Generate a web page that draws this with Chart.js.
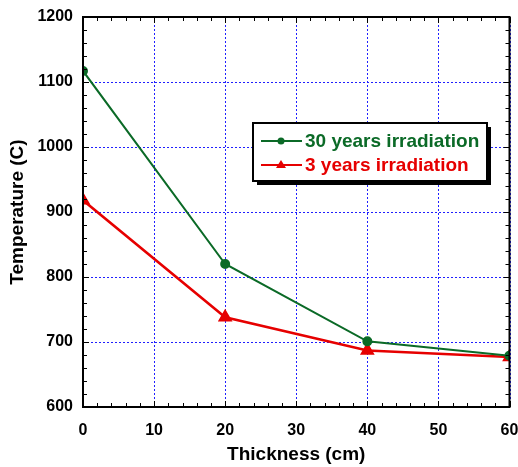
<!DOCTYPE html>
<html>
<head>
<meta charset="utf-8">
<script src="https://cdn.jsdelivr.net/npm/chart.js@4"></script>
<style>
  html, body { margin: 0; padding: 0; background: #fff; }
  #wrap { width: 518px; height: 467px; position: relative; }
</style>
</head>
<body>
<div id="wrap"><canvas id="tempChart"></canvas></div>
<script>
// Data
const thickness = [0, 20, 40, 60];
const temp30 = [1117, 820, 701, 679];
const temp3 = [918, 738, 687, 677];
const seriesLabels = ['30 years irradiation', '3 years irradiation'];
const xTicks = [0, 10, 20, 30, 40, 50, 60];
const yTicks = [600, 700, 800, 900, 1000, 1100, 1200];

const GREEN = '#0b6a27';
const RED = '#e60000';
const FONT = '"Liberation Sans", Arial, sans-serif';

// Dotted blue gridlines at the major ticks
const dottedGrid = {
    id: 'dottedGrid',
    beforeDatasetsDraw(chart) {
        const { ctx, chartArea: a, scales } = chart;
        ctx.save();
        ctx.strokeStyle = '#1f1fff';
        ctx.lineWidth = 1;
        ctx.setLineDash([2, 2]);
        ctx.beginPath();
        xTicks.forEach(v => {
            const px = Math.round(scales.x.getPixelForValue(v)) + 0.5;
            ctx.moveTo(px, a.top); ctx.lineTo(px, a.bottom);
        });
        yTicks.forEach(v => {
            const py = Math.round(scales.y.getPixelForValue(v)) + 0.5;
            ctx.moveTo(a.left, py); ctx.lineTo(a.right, py);
        });
        ctx.stroke();
        ctx.restore();
    }
};

// Inward minor/major ticks on all four sides + black frame
const frameTicks = {
    id: 'frameTicks',
    afterDatasetsDraw(chart) {
        const { ctx, chartArea: a, scales } = chart;
        const x = scales.x, y = scales.y;
        ctx.save();
        ctx.strokeStyle = '#000';
        ctx.lineWidth = 1;
        ctx.beginPath();
        for (let v = 0; v <= 60; v += 2) {
            const px = Math.round(x.getPixelForValue(v)) + 0.5;
            const len = v % 10 === 0 ? 6 : 4;
            ctx.moveTo(px, a.bottom); ctx.lineTo(px, a.bottom - len);
            ctx.moveTo(px, a.top); ctx.lineTo(px, a.top + len);
        }
        for (let v = 600; v <= 1200; v += 20) {
            const py = Math.round(y.getPixelForValue(v)) + 0.5;
            const len = v % 100 === 0 ? 6 : 4;
            ctx.moveTo(a.left, py); ctx.lineTo(a.left + len, py);
            ctx.moveTo(a.right, py); ctx.lineTo(a.right - len, py);
        }
        ctx.stroke();
        ctx.lineWidth = 2;
        ctx.strokeRect(a.left, a.top, a.right - a.left, a.bottom - a.top);
        ctx.restore();
    }
};

// Boxed legend with drop shadow, inside the plot
const boxLegend = {
    id: 'boxLegend',
    afterDraw(chart) {
        const { ctx } = chart;
        const bx = 253, by = 123, bw = 234, bh = 58;
        ctx.save();
        ctx.fillStyle = '#000';
        ctx.fillRect(bx + 4, by + 4, bw, bh);
        ctx.fillStyle = '#fff';
        ctx.fillRect(bx, by, bw, bh);
        ctx.lineWidth = 2;
        ctx.strokeStyle = '#000';
        ctx.strokeRect(bx, by, bw, bh);
        ctx.font = 'bold 19px ' + FONT;
        ctx.textBaseline = 'middle';
        chart.data.datasets.forEach((ds, i) => {
            const cy = by + 18 + i * 24;
            ctx.strokeStyle = ds.borderColor;
            ctx.lineWidth = 2;
            ctx.beginPath();
            ctx.moveTo(bx + 8, cy); ctx.lineTo(bx + 49, cy);
            ctx.stroke();
            ctx.fillStyle = ds.borderColor;
            ctx.beginPath();
            if (ds.pointStyle === 'triangle') {
                ctx.moveTo(bx + 28, cy - 5); ctx.lineTo(bx + 33, cy + 3); ctx.lineTo(bx + 23, cy + 3);
                ctx.closePath();
            } else {
                ctx.arc(bx + 28, cy, 3.5, 0, Math.PI * 2);
            }
            ctx.fill();
            ctx.fillText(ds.label, bx + 52, cy + 1);
        });
        ctx.restore();
    }
};

new Chart(document.getElementById('tempChart'), {
    type: 'line',
    data: {
        datasets: [{
            label: seriesLabels[0],
            data: thickness.map((t, i) => ({ x: t, y: temp30[i] })),
            borderColor: GREEN,
            backgroundColor: GREEN,
            borderWidth: 2,
            pointStyle: 'circle',
            pointRadius: 4,
            tension: 0
        }, {
            label: seriesLabels[1],
            data: thickness.map((t, i) => ({ x: t, y: temp3[i] })),
            borderColor: RED,
            backgroundColor: RED,
            borderWidth: 2.5,
            pointStyle: 'triangle',
            pointRadius: 6,
            tension: 0
        }]
    },
    options: {
        responsive: true,
        maintainAspectRatio: false,
        animation: false,
        layout: { padding: { top: 17, right: 8, left: 0, bottom: 0 } },
        plugins: {
            legend: { display: false },
            tooltip: { enabled: false }
        },
        scales: {
            x: {
                type: 'linear',
                min: 0, max: 60,
                afterBuildTicks: s => { s.ticks = xTicks.map(v => ({ value: v })); },
                afterFit: s => { s.height = 60; s.paddingRight = 0; s.paddingLeft = 0; },
                grid: { display: false, drawTicks: false },
                border: { display: false },
                ticks: {
                    color: '#000',
                    padding: 14,
                    callback: v => String(v),
                    font: { family: FONT, size: 16, weight: 'bold' }
                },
                title: {
                    display: true,
                    text: 'Thickness (cm)',
                    color: '#000',
                    padding: { top: 0, bottom: 1 },
                    font: { family: FONT, size: 19, weight: 'bold' }
                }
            },
            y: {
                min: 600, max: 1200,
                afterBuildTicks: s => { s.ticks = yTicks.map(v => ({ value: v })); },
                afterFit: s => { s.width = 83; s.paddingTop = 0; s.paddingBottom = 0; },
                grid: { display: false, drawTicks: false },
                border: { display: false },
                ticks: {
                    color: '#000',
                    padding: 10,
                    callback: v => String(v),
                    font: { family: FONT, size: 16, weight: 'bold' }
                },
                title: {
                    display: true,
                    text: 'Temperature (C)',
                    color: '#000',
                    padding: { top: 6, bottom: 0 },
                    font: { family: FONT, size: 19, weight: 'bold' }
                }
            }
        }
    },
    plugins: [dottedGrid, frameTicks, boxLegend]
});
</script>
</body>
</html>
